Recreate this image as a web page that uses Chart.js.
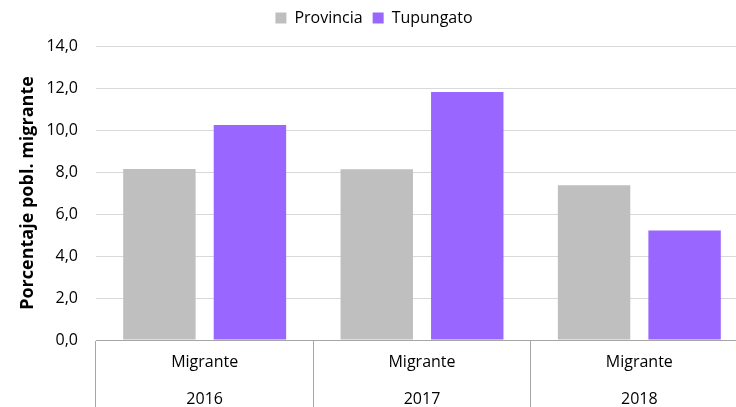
<!DOCTYPE html>
<html>
<head>
<meta charset="utf-8">
<script src="https://cdn.jsdelivr.net/npm/chart.js@4.4.1/dist/chart.umd.min.js"></script>
<style>
    html, body { margin: 0; padding: 0; background: #ffffff; overflow: hidden; }
    #wrap { width: 736px; height: 407px; overflow: hidden; }
</style>
</head>
<body>
<div id="wrap"><canvas id="myBarChart" width="748" height="407"></canvas></div>
<script>
// Datos del gráfico
const categorias = ['Migrante', 'Migrante', 'Migrante'];
const anios = ['2016', '2017', '2018'];
const provincia = [8.14, 8.13, 7.37];
const tupungato = [10.24, 11.81, 5.22];
const series = ['Provincia', 'Tupungato'];

const ctx = document.getElementById('myBarChart').getContext('2d');

// etiquetas de dos niveles: categoría arriba, año abajo
const labels = categorias.map((c, i) => [c, anios[i]]);

const fuente = 'Open Sans';

const myBarChart = new Chart(ctx, {
    type: 'bar',
    data: {
        labels: labels,
        datasets: [{
            label: series[0],
            data: provincia,
            backgroundColor: '#bfbfbf',
            categoryPercentage: 0.833,
            barPercentage: 0.8
        }, {
            label: series[1],
            data: tupungato,
            backgroundColor: '#9966ff',
            categoryPercentage: 0.833,
            barPercentage: 0.8
        }]
    },
    options: {
        responsive: false,
        animation: false,
        layout: {
            padding: { top: 0, right: 0, left: 0, bottom: 0 }
        },
        plugins: {
            legend: {
                position: 'top',
                labels: {
                    boxWidth: 11,
                    boxHeight: 11,
                    padding: 10,
                    color: '#000000',
                    font: { family: fuente, size: 16 }
                }
            },
            // espacio vacío entre la leyenda y el gráfico
            subtitle: {
                display: true,
                text: '',
                weight: 500,
                padding: 0,
                font: { size: 10, lineHeight: 1 }
            },
            tooltip: { enabled: false }
        },
        scales: {
            x: {
                grid: {
                    offset: true,
                    drawOnChartArea: false,
                    drawTicks: true,
                    tickLength: 70,
                    color: '#a6a6a6'
                },
                border: { color: '#a6a6a6' },
                ticks: {
                    color: '#000000',
                    padding: -66,
                    maxRotation: 0,
                    font: { family: fuente, size: 16, lineHeight: 2.31 }
                },
                afterFit: function(scale) {
                    scale.height = 67;
                }
            },
            y: {
                min: 0,
                max: 14,
                ticks: {
                    stepSize: 2,
                    color: '#000000',
                    padding: 18,
                    font: { family: fuente, size: 16 },
                    callback: function(value) {
                        return value.toFixed(1).replace('.', ',');
                    }
                },
                grid: { color: '#d9d9d9', drawTicks: false },
                border: { display: false },
                title: {
                    display: true,
                    text: 'Porcentaje pobl. migrante',
                    color: '#000000',
                    padding: { top: 17, bottom: 4 },
                    font: { family: fuente, size: 18, weight: 'bold' }
                },
                afterFit: function(scale) {
                    scale.width = 96;
                }
            }
        }
    }
});
</script>
</body>
</html>
